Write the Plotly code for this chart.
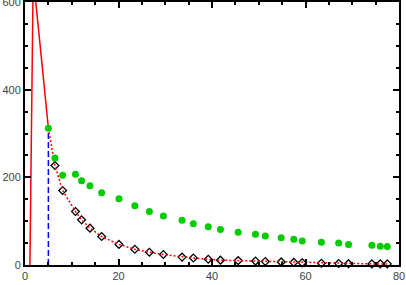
import plotly.graph_objects as go

# Input curve (solid red)
curve_x = [1.05, 1.3, 1.55, 1.8, 2.0, 2.3, 3.0, 4.0, 5.0]
curve_y = [0, 280, 560, 700, 690, 600, 526, 420, 312]

# Vertical marker (blue dashed)
vline_x = [5, 5]
vline_y = [0, 312]

# Sample times
t = [5.0, 6.4, 8.05, 10.8, 12.1, 13.9, 16.4, 20.1, 23.5, 26.6, 29.6, 33.6, 36.0,
     39.2, 41.8, 45.6, 49.3, 51.4, 54.8, 57.5, 59.3, 63.4, 67.1, 69.2, 74.2, 76.0, 77.5]

# Green dots
green_y = [312, 244, 205, 207, 192, 181, 165, 151, 135, 122, 112, 102, 94,
           87, 81, 75, 70, 66, 62, 59, 55, 52, 50, 47, 45, 43, 42]

# Fitted curve values (red dotted) and diamonds (diamonds start at second sample)
diamond_y = [312, 227, 170, 122, 103, 84, 65, 47, 36, 29, 24, 18, 16,
             13, 11, 10, 9, 8, 7, 6, 5, 4, 3.5, 3, 2.5, 2.5, 2.5]

x_ticks = [0, 20, 40, 60, 80]
y_ticks = [0, 200, 400, 600]

fig = go.Figure()

fig.add_trace(go.Scatter(x=curve_x, y=curve_y, mode="lines",
                         line=dict(color="red", width=1.5), showlegend=False))
fig.add_trace(go.Scatter(x=vline_x, y=vline_y, mode="lines",
                         line=dict(color="blue", width=1.5, dash="6px,3px"), showlegend=False))
fig.add_trace(go.Scatter(x=t[1:], y=diamond_y[1:], mode="markers",
                         marker=dict(symbol="diamond-open", size=6, color="black",
                                     line=dict(color="black", width=1.3)),
                         cliponaxis=False, showlegend=False))
fig.add_trace(go.Scatter(x=t, y=diamond_y, mode="lines",
                         line=dict(color="red", width=1.5, dash="2px,2px"), showlegend=False))
fig.add_trace(go.Scatter(x=t, y=green_y, mode="markers",
                         marker=dict(symbol="circle", size=7, color="#00cc00"),
                         cliponaxis=False, showlegend=False))

axis_common = dict(
    showgrid=False, zeroline=False, showline=True, linecolor="black", linewidth=2,
    mirror="ticks", ticks="inside", ticklen=6, tickwidth=2, tickcolor="black",
    tickfont=dict(family="Liberation Sans", size=11, color="#444"),
    automargin=False, ticklabeloverflow="allow",
)

fig.update_xaxes(range=[0, 80], tickmode="array", tickvals=x_ticks,
                 ticktext=[str(v) for v in x_ticks],
                 minor=dict(dtick=5, ticks="inside", ticklen=3, tickwidth=1.5, tickcolor="black"),
                 **axis_common)
fig.update_yaxes(range=[0, 600], tickmode="array", tickvals=y_ticks,
                 ticktext=[str(v) for v in y_ticks],
                 minor=dict(dtick=50, ticks="inside", ticklen=3, tickwidth=1.5, tickcolor="black"),
                 **axis_common)

fig.update_layout(width=406, height=285, margin=dict(l=25, r=7, t=2, b=20, autoexpand=False),
                  plot_bgcolor="white", paper_bgcolor="white")

fig.write_html("out.html", config={"displayModeBar": False},
               post_script="document.body.style.margin='0';")
